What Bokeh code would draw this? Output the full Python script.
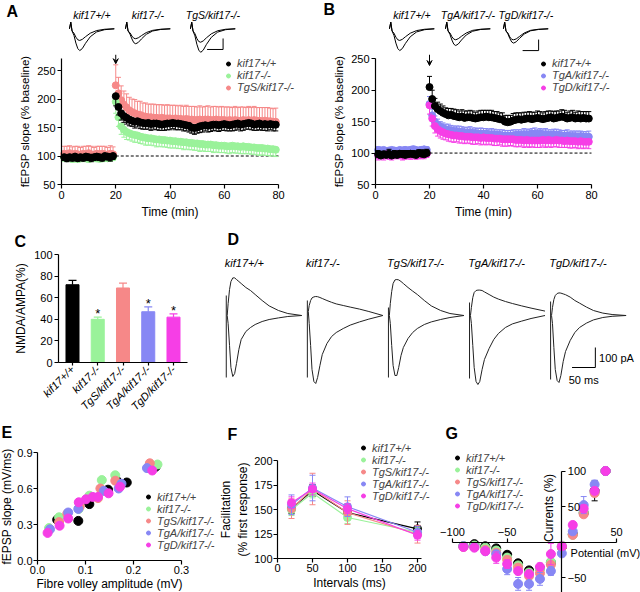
import math
from bokeh.plotting import figure
from bokeh.models import (Range1d, Legend, LegendItem, Arrow, VeeHead,
                          Label, LinearAxis, FixedTicker, NumeralTickFormatter)
from bokeh.layouts import row, column
from bokeh.embed import file_html
from bokeh.resources import INLINE
from bokeh.core.properties import value

FONT = "Liberation Sans"

GENOTYPES = ["kif17+/+", "kif17-/-", "TgS/kif17-/-", "TgA/kif17-/-", "TgD/kif17-/-"]
COLORS = ["#000000", "#9af29a", "#f68888", "#8787f4", "#f63ee6"]

# ---------------- A / B : LTP time course (% baseline) ----------------
ltp_time = list(range(1, 80))
ltp_wt = [98, 96, 98, 97, 99, 96, 98, 97, 99, 98, 97, 98, 99, 98, 97, 100, 99, 98, 100,
          205, 186, 175, 170, 167, 164, 162, 160, 161, 159, 158, 157, 158, 156, 157, 157, 156, 155, 156, 157,
          157, 158, 157, 157, 156, 155, 154, 153, 150, 149, 150, 152, 153, 154, 153, 154, 155, 155, 154, 155,
          156, 155, 154, 155, 156, 157, 155, 156, 157, 158, 157, 155, 156, 157, 155, 156, 155, 156, 155, 155]
ltp_wt_sem = [6, 6, 5, 6, 7, 5, 6, 6, 5, 6, 7, 6, 5, 6, 6, 5, 6, 7, 6,
              17, 14, 12, 11, 11, 11, 10, 11, 10, 11, 11, 10, 11, 11, 10, 11, 11, 10, 11, 11,
              11, 10, 11, 11, 10, 11, 10, 11, 10, 11, 10, 11, 11, 10, 11, 11, 10, 11, 11, 10,
              11, 11, 10, 11, 11, 10, 11, 11, 10, 11, 11, 10, 11, 11, 10, 11, 11, 10, 11, 11]
ltp_ko = [97, 96, 97, 95, 96, 95, 96, 97, 96, 95, 96, 97, 96, 95, 96, 97, 96, 97, 98,
          195, 168, 152, 146, 142, 140, 138, 137, 136, 134, 133, 132, 131, 131, 130, 129, 129, 128, 128, 127,
          127, 126, 126, 125, 125, 124, 124, 123, 123, 122, 122, 121, 121, 120, 120, 120, 119, 119, 118, 118,
          118, 117, 117, 118, 117, 117, 116, 117, 116, 116, 115, 115, 114, 114, 114, 113, 113, 112, 112, 111]
ltp_ko_sem = [6, 5, 6, 6, 5, 6, 6, 5, 6, 6, 5, 6, 6, 5, 6, 6, 5, 6, 6,
              20, 16, 14, 13, 13, 12, 12, 13, 12, 12, 12, 13, 12, 12, 12, 13, 12, 12, 12, 12,
              13, 12, 12, 12, 12, 13, 12, 12, 12, 12, 12, 13, 12, 12, 12, 12, 13, 12, 12, 12,
              12, 12, 13, 12, 12, 12, 12, 13, 12, 12, 12, 12, 12, 13, 12, 12, 12, 12, 12, 12]
ltp_tgs = [104, 103, 105, 102, 104, 103, 102, 104, 103, 105, 103, 102, 104, 103, 104, 103, 102, 104, 103,
           224, 210, 198, 190, 185, 180, 177, 175, 173, 172, 170, 169, 168, 168, 167, 167, 166, 167, 166, 166,
           166, 165, 166, 165, 165, 164, 165, 164, 164, 163, 163, 164, 163, 164, 164, 163, 163, 164, 163, 163,
           163, 162, 163, 162, 163, 162, 162, 163, 162, 163, 162, 163, 162, 162, 161, 162, 161, 161, 160, 160]
ltp_tgs_sem = [13, 14, 13, 14, 13, 14, 13, 13, 14, 13, 14, 13, 13, 14, 13, 14, 13, 14, 13,
               36, 28, 25, 24, 24, 23, 23, 24, 23, 24, 23, 24, 23, 23, 24, 23, 24, 23, 23, 24,
               23, 24, 23, 23, 24, 23, 24, 23, 23, 24, 23, 24, 23, 23, 24, 23, 24, 23, 23, 24,
               23, 24, 23, 23, 24, 23, 24, 23, 23, 24, 23, 24, 23, 23, 24, 23, 24, 23, 23, 24]
ltp_tga = [105, 104, 105, 103, 104, 105, 104, 103, 105, 104, 105, 104, 105, 106, 105, 104, 105, 106, 105,
           178, 160, 150, 145, 142, 140, 138, 137, 136, 135, 135, 134, 134, 133, 133, 133, 132, 132, 131, 131,
           131, 131, 130, 130, 130, 129, 129, 128, 128, 128, 128, 128, 129, 129, 129, 130, 130, 130, 131, 131,
           130, 131, 130, 130, 129, 129, 130, 129, 129, 128, 128, 128, 127, 127, 127, 126, 127, 126, 126, 126]
ltp_tga_sem = [5, 5, 4, 5, 5, 4, 5, 5, 4, 5, 5, 4, 5, 5, 4, 5, 5, 4, 5,
               12, 10, 9, 9, 8, 8, 8, 9, 8, 8, 8, 9, 8, 8, 8, 9, 8, 8, 8, 9,
               8, 8, 8, 9, 8, 8, 8, 9, 8, 8, 8, 9, 8, 8, 8, 9, 8, 8, 8, 9,
               8, 8, 8, 9, 8, 8, 8, 9, 8, 8, 8, 9, 8, 8, 8, 9, 8, 8, 8, 9]
ltp_tgd = [96, 97, 96, 98, 97, 96, 97, 98, 97, 96, 97, 98, 97, 98, 97, 98, 97, 98, 99,
           176, 155, 143, 138, 135, 133, 131, 130, 129, 128, 128, 127, 127, 126, 126, 126, 125, 125, 125, 124,
           125, 124, 124, 124, 123, 123, 123, 122, 122, 122, 122, 122, 121, 121, 121, 120, 121, 120, 120, 120,
           120, 120, 121, 120, 121, 120, 120, 121, 120, 120, 119, 120, 119, 119, 119, 118, 119, 118, 118, 118]
ltp_tgd_sem = [7, 6, 7, 6, 7, 7, 6, 7, 6, 7, 7, 6, 7, 6, 7, 7, 6, 7, 6,
               14, 12, 11, 11, 11, 11, 10, 11, 11, 11, 10, 11, 11, 11, 10, 11, 11, 11, 10, 11,
               11, 11, 10, 11, 11, 11, 10, 11, 11, 11, 10, 11, 11, 11, 10, 11, 11, 11, 10, 11,
               11, 11, 10, 11, 11, 11, 10, 11, 11, 11, 10, 11, 11, 11, 10, 11, 11, 11, 10, 11]
STIM_TIME = 20
BASELINE = 100
LTP_END = 80

# example fEPSP traces (mV): baseline and post-LTP
fepsp_time = [0, 0.4, 0.8, 1.4, 2.0, 2.6, 3.2, 4.0, 5.0, 6.5, 8.5, 11, 14]
fepsp_wt_pre = [0, 0.30, -0.10, -0.20, -0.38, -0.50, -0.53, -0.48, -0.36, -0.20, -0.08, -0.02, 0]
fepsp_wt_post = [0, 0.30, -0.10, -0.30, -0.65, -0.90, -0.99, -0.90, -0.66, -0.36, -0.14, -0.04, 0]
fepsp_ko_pre = [0, 0.30, -0.10, -0.18, -0.33, -0.43, -0.45, -0.41, -0.31, -0.17, -0.07, -0.02, 0]
fepsp_ko_post = [0, 0.30, -0.10, -0.24, -0.46, -0.63, -0.68, -0.62, -0.46, -0.25, -0.10, -0.03, 0]
fepsp_tgs_pre = [0, 0.30, -0.10, -0.22, -0.44, -0.58, -0.61, -0.55, -0.41, -0.23, -0.09, -0.02, 0]
fepsp_tgs_post = [0, 0.30, -0.10, -0.32, -0.70, -0.97, -1.07, -0.97, -0.71, -0.39, -0.15, -0.04, 0]
fepsp_tga_pre = [0, 0.30, -0.10, -0.19, -0.36, -0.47, -0.50, -0.45, -0.34, -0.19, -0.07, -0.02, 0]
fepsp_tga_post = [0, 0.30, -0.10, -0.26, -0.51, -0.70, -0.76, -0.69, -0.51, -0.28, -0.11, -0.03, 0]
fepsp_tgd_pre = [0, 0.30, -0.10, -0.19, -0.37, -0.48, -0.50, -0.46, -0.35, -0.19, -0.07, -0.02, 0]
fepsp_tgd_post = [0, 0.30, -0.10, -0.23, -0.44, -0.60, -0.65, -0.59, -0.44, -0.24, -0.09, -0.03, 0]
FEPSP_SCALE_MS = 5
FEPSP_SCALE_MV = 0.5

# ---------------- C : NMDA/AMPA ratio ----------------
nmda_mean = [72, 40, 69, 47, 42]
nmda_sem = [4, 2, 4.5, 4.5, 3]
nmda_sig = ["", "*", "", "*", "*"]

# ---------------- D : example EPSCs (pA) ----------------
epsc_time = [0, 2, 5, 8, 12, 16, 20, 25, 30, 40, 50, 60, 75, 90, 110, 130, 160]
epsc_wt_up = [0, 60, 130, 170, 188, 188, 180, 170, 160, 140, 125, 105, 75, 48, 25, 10, 0]
epsc_wt_down = [0, -40, -150, -260, -305, -290, -240, -170, -120, -80, -60, -45, -30, -20, -12, -5, 0]
epsc_ko_up = [20, 50, 75, 88, 93, 95, 94, 90, 85, 75, 66, 58, 50, 42, 32, 20, 0]
epsc_ko_down = [20, -40, -150, -270, -330, -340, -310, -250, -195, -140, -105, -85, -65, -48, -32, -18, 0]
epsc_tgs_up = [0, 60, 120, 160, 178, 180, 178, 170, 160, 140, 122, 105, 75, 48, 25, 10, 0]
epsc_tgs_down = [0, -40, -150, -250, -300, -300, -260, -200, -160, -115, -85, -65, -45, -32, -20, -10, 0]
epsc_tga_up = [0, 40, 90, 115, 125, 127, 127, 125, 118, 105, 92, 82, 70, 60, 48, 37, 22]
epsc_tga_down = [0, -40, -150, -260, -330, -345, -330, -270, -220, -165, -120, -90, -60, -42, -28, -15, 0]
epsc_tgd_up = [0, 40, 80, 100, 110, 113, 112, 108, 104, 92, 75, 62, 42, 25, 12, 5, 0]
epsc_tgd_down = [0, -40, -160, -270, -325, -335, -300, -230, -180, -125, -85, -60, -38, -22, -10, -4, 0]
epsc_artifact_top = [100, 75, 40, 65, 70]
epsc_artifact_bottom = [-310, -310, -310, -315, -320]
EPSC_SCALE_MS = 50
EPSC_SCALE_PA = 100

# ---------------- E : input-output ----------------
io_wt_x = [0.041, 0.085, 0.108, 0.147, 0.165, 0.186, 0.246]
io_wt_y = [0.34, 0.33, 0.47, 0.59, 0.665, 0.65, 0.78]
io_ko_x = [0.024, 0.045, 0.086, 0.108, 0.134, 0.162, 0.250]
io_ko_y = [0.27, 0.36, 0.43, 0.54, 0.67, 0.71, 0.80]
io_tgs_x = [0.045, 0.062, 0.088, 0.126, 0.131, 0.162, 0.234]
io_tgs_y = [0.32, 0.39, 0.45, 0.52, 0.60, 0.665, 0.81]
io_tga_x = [0.026, 0.064, 0.085, 0.138, 0.169, 0.175, 0.228]
io_tga_y = [0.26, 0.40, 0.43, 0.58, 0.60, 0.64, 0.77]
io_tgd_x = [0.021, 0.046, 0.064, 0.086, 0.101, 0.115, 0.126, 0.148, 0.172, 0.239]
io_tgd_y = [0.23, 0.29, 0.35, 0.485, 0.51, 0.53, 0.53, 0.56, 0.615, 0.75]

# ---------------- F : paired-pulse facilitation ----------------
ppf_interval = [20, 50, 100, 200]
ppf_wt = [151, 169.5, 147, 130.5]
ppf_wt_sem = [5, 6, 5, 7]
ppf_ko = [150, 167, 142, 127]
ppf_ko_sem = [6, 5, 6, 5]
ppf_tgs = [151, 171, 147, 125]
ppf_tgs_sem = [10, 16, 12, 9]
ppf_tga = [155, 172, 153, 127]
ppf_tga_sem = [10, 13, 10, 6]
ppf_tgd = [157, 171, 151, 124]
ppf_tgd_sem = [6, 6, 5, 5]

# ---------------- G : I-V relation ----------------
iv_potential = [-90, -80, -70, -60, -50, -40, -30, -20, -10, 0, 10, 20, 30, 40]
iv_wt = [-6, -3, -6, -9, -18, -30, -40, -37, -29, -7, 11, 41, 72, 100]
iv_wt_sem = [2, 2, 2, 3, 3, 3, 4, 4, 4, 3, 3, 4, 14, 0]
iv_ko = [-6, -5, -8, -12, -22, -33, -43, -38, -28, -5, 10, 42, 70, 100]
iv_ko_sem = [2, 2, 2, 3, 3, 3, 4, 4, 4, 3, 3, 4, 5, 0]
iv_tgs = [-7, -7, -11, -15, -25, -36, -48, -44, -32, -7, 10, 39, 69, 100]
iv_tgs_sem = [2, 2, 3, 3, 4, 4, 5, 5, 4, 3, 3, 4, 5, 0]
iv_tga = [-6, -7, -13, -17, -38, -59, -59, -52, -41, -16, 15, 52, 81, 100]
iv_tga_sem = [2, 2, 3, 4, 8, 9, 9, 9, 6, 4, 4, 12, 6, 0]
iv_tgd = [-7, -8, -13, -22, -31, -41, -45, -35, -17, -6, 24, 47, 72, 100]
iv_tgd_sem = [2, 2, 3, 8, 6, 5, 5, 5, 15, 4, 4, 5, 5, 0]


# ====================== helpers ======================
def frame_ranges(w, h, px_box, data_box):
    """Ranges so that data_box (x0, x1, y0, y1) lands on the in-figure pixels
    px_box (left, right, bottom, top); the frame fills the whole figure."""
    l, r, b, t = px_box
    x0, x1, y0, y1 = data_box
    sx = (x1 - x0) / (r - l)
    sy = (y1 - y0) / (b - t)
    return (Range1d(x0 - l * sx, x1 + (w - r) * sx),
            Range1d(y0 - (h - b) * sy, y1 + t * sy))


def make_fig(w, h, xr, yr):
    p = figure(width=w, height=h, x_range=xr, y_range=yr, toolbar_location=None,
               output_backend="svg", min_border_left=0, min_border_right=0,
               min_border_top=0, min_border_bottom=0,
               x_axis_location=None, y_axis_location=None)
    p.outline_line_color = None
    p.grid.grid_line_color = None
    p.background_fill_color = "white"
    p.border_fill_color = "white"
    return p


def style_axes(p, tick_size="11px", label_size="12px", tick_standoff=2, label_standoff=3):
    for ax in p.axis:
        ax.axis_line_color = "black"
        ax.axis_line_width = 1.2
        ax.major_tick_line_color = "black"
        ax.major_tick_line_width = 1.2
        ax.major_tick_out = 4
        ax.major_tick_in = 0
        ax.minor_tick_line_color = None
        ax.major_label_text_font = FONT
        ax.major_label_text_font_size = tick_size
        ax.major_label_text_color = "black"
        ax.axis_label_text_font = FONT
        ax.axis_label_text_font_size = label_size
        ax.axis_label_text_font_style = "normal"
        ax.axis_label_text_color = "black"
        ax.major_label_standoff = tick_standoff
        ax.axis_label_standoff = label_standoff


def add_axes(p, xloc, yloc, xbounds, ybounds, xticks, yticks, xlabel=None, ylabel=None):
    xa = LinearAxis(fixed_location=yloc, bounds=xbounds, ticker=FixedTicker(ticks=xticks))
    ya = LinearAxis(fixed_location=xloc, bounds=ybounds, ticker=FixedTicker(ticks=yticks))
    if xlabel:
        xa.axis_label = xlabel
    if ylabel:
        ya.axis_label = ylabel
    p.add_layout(xa, "below")
    p.add_layout(ya, "left")
    return xa, ya


def letter(p, text, px, py):
    p.add_layout(Label(x=p.x_range.start, y=p.y_range.end, x_offset=px, y_offset=-py, text=text,
                       text_font=FONT, text_font_size="16px", text_font_style="bold",
                       text_baseline="top", text_align="left", text_color="black"))


def add_legend(p, renderers, labels, loc):
    items = [LegendItem(label=l, renderers=[r]) for l, r in zip(labels, renderers)]
    lg = Legend(items=items, location=loc, background_fill_alpha=0, border_line_alpha=0,
                label_text_font=FONT, label_text_font_size="11px", label_text_font_style="italic",
                glyph_width=10, glyph_height=11, label_height=11, spacing=0, padding=0,
                margin=0, label_standoff=4)
    p.add_layout(lg, "center")


def err_series(p, x, y, err, color, direction, size, cap=5, lw=1.0):
    hi = [v + e for v, e in zip(y, err)]
    lo = [v - e for v, e in zip(y, err)]
    if direction > 0:
        p.segment(x0=x, y0=y, x1=x, y1=hi, line_color=color, line_width=lw)
        p.scatter(x=x, y=hi, marker="dash", size=cap, line_color=color, line_width=lw)
    elif direction < 0:
        p.segment(x0=x, y0=y, x1=x, y1=lo, line_color=color, line_width=lw)
        p.scatter(x=x, y=lo, marker="dash", size=cap, line_color=color, line_width=lw)
    else:
        p.segment(x0=x, y0=lo, x1=x, y1=hi, line_color=color, line_width=lw)
        p.scatter(x=x, y=hi, marker="dash", size=cap, line_color=color, line_width=lw)
        p.scatter(x=x, y=lo, marker="dash", size=cap, line_color=color, line_width=lw)
    return p.scatter(x=x, y=y, marker="circle", size=size, fill_color=color, line_color=color)


TR_W, TR_H = 320, 54


def trace_fig(names, pre, post, offsets, scale_x, scale_y, panel, lx, ly):
    p = make_fig(TR_W, TR_H, Range1d(-21.56, 78.44), Range1d(-1.168, 1.286))
    for nm, a, b, off in zip(names, pre, post, offsets):
        tt = [t + off for t in fepsp_time]
        p.line(tt, a, line_color="black", line_width=1)
        p.line(tt, b, line_color="black", line_width=1)
        p.text(x=[off + fepsp_time[-1] / 2], y=[0.605], text=[nm], text_font=value(FONT),
               text_font_size="10.5px", text_font_style="italic", text_align="center",
               text_baseline="middle", text_color="black")
    p.line([scale_x - FEPSP_SCALE_MS, scale_x, scale_x],
           [scale_y, scale_y, scale_y + FEPSP_SCALE_MV], line_color="black", line_width=1)
    letter(p, panel, lx, ly)
    return p


LTP_W, LTP_H = 320, 176


def ltp_fig(px_box, ytop, series, legend_rends_order, labels, legend_loc, arrow):
    xr, yr = frame_ranges(LTP_W, LTP_H, px_box, (0, LTP_END, 50, 250))
    p = make_fig(LTP_W, LTP_H, xr, yr)
    p.line([STIM_TIME, LTP_END], [BASELINE, BASELINE], line_color="black", line_width=1, line_dash="3 2")
    rends = [err_series(p, ltp_time, y, e, c, d, 7) for (y, e, c, d) in series]
    p.add_layout(Arrow(end=VeeHead(size=5, line_width=1), x_start=STIM_TIME, y_start=arrow[0],
                       x_end=STIM_TIME, y_end=arrow[1], line_width=1))
    add_axes(p, 0, 50, (0, LTP_END), (50, ytop), [0, 20, 40, 60, 80], [50, 100, 150, 200, 250],
             "Time (min)", "fEPSP slope (% baseline)")
    style_axes(p)
    p.yaxis.axis_label_text_font_size = "11.5px"
    add_legend(p, [rends[i] for i in legend_rends_order], labels, legend_loc)
    return p


# ====================== A ======================
trA = trace_fig(["kif17+/+", "kif17-/-", "TgS/kif17-/-"],
                [fepsp_wt_pre, fepsp_ko_pre, fepsp_tgs_pre],
                [fepsp_wt_post, fepsp_ko_post, fepsp_tgs_post],
                [0, 17.5, 37.8], 48, -0.94, "A", 6, 2)
pA = ltp_fig((61, 278, 130, 16), 271,
             [(ltp_tgs, ltp_tgs_sem, COLORS[2], +1),
              (ltp_ko, ltp_ko_sem, COLORS[1], -1),
              (ltp_wt, ltp_wt_sem, COLORS[0], -1)],
             [2, 1, 0], [GENOTYPES[0], GENOTYPES[1], GENOTYPES[2]], (223, 137), (278, 262))

# ====================== B ======================
trB = trace_fig(["kif17+/+", "TgA/kif17-/-", "TgD/kif17-/-"],
                [fepsp_wt_pre, fepsp_tga_pre, fepsp_tgd_pre],
                [fepsp_wt_post, fepsp_tga_post, fepsp_tgd_post],
                [0, 17.5, 35.6], 46.6, -0.99, "B", 3, 0)
pB = ltp_fig((55, 271, 130, 4.3), 250,
             [(ltp_tga, ltp_tga_sem, COLORS[3], +1),
              (ltp_tgd, ltp_tgd_sem, COLORS[4], -1),
              (ltp_wt, ltp_wt_sem, COLORS[0], +1)],
             [2, 0, 1], [GENOTYPES[0], GENOTYPES[3], GENOTYPES[4]], (218, 137), (256.8, 239.3))

# ====================== C ======================
bar_pos = [1, 2, 3, 4, 5]
C_W, C_H = 200, 190
xr, yr = frame_ranges(C_W, C_H, (72, 173, 132, 24), (1, 5, 0, 100))
pC = make_fig(C_W, C_H, xr, yr)
pC.vbar(x=bar_pos, top=nmda_mean, width=0.515, fill_color=COLORS, line_color=COLORS)
c_top = [m + s for m, s in zip(nmda_mean, nmda_sem)]
pC.segment(x0=bar_pos, y0=nmda_mean, x1=bar_pos, y1=c_top, line_color=COLORS, line_width=1.2)
pC.scatter(x=bar_pos, y=c_top, marker="dash", size=8, line_color=COLORS, line_width=1.2)
sig_x = [x for x, s in zip(bar_pos, nmda_sig) if s]
sig_y = [t + 3 for t, s in zip(c_top, nmda_sig) if s]
pC.text(x=sig_x, y=sig_y, text=["*"] * len(sig_x), text_font=value(FONT), text_font_size="13px",
        text_align="center", text_baseline="alphabetic", text_color="black")
cxa, cya = add_axes(pC, 0.446, 0, (0.446, 5.55), (0, 100), bar_pos, [0, 20, 40, 60, 80, 100],
                    None, "NMDA/AMPA(%)")
cxa.major_label_overrides = {p: g for p, g in zip(bar_pos, GENOTYPES)}
style_axes(pC)
cxa.major_label_orientation = math.pi / 4
cxa.major_label_text_font_style = "italic"
cxa.major_tick_out = 3
letter(pC, "C", 14, 2)

# ====================== D ======================
D_W, D_H = 440, 190
pD = make_fig(D_W, D_H, Range1d(-57.3, 886.9), Range1d(-525, 425))
TRACE_SPACING = 174
ups = [epsc_wt_up, epsc_ko_up, epsc_tgs_up, epsc_tga_up, epsc_tgd_up]
downs = [epsc_wt_down, epsc_ko_down, epsc_tgs_down, epsc_tga_down, epsc_tgd_down]
for i, g in enumerate(GENOTYPES):
    off = i * TRACE_SPACING
    tt = [t + off for t in epsc_time]
    pD.line(tt, ups[i], line_color="#222222", line_width=1)
    pD.line(tt, downs[i], line_color="#222222", line_width=1)
    pD.segment(x0=[off - 2], y0=[epsc_artifact_bottom[i]], x1=[off - 2], y1=[epsc_artifact_top[i]],
               line_color="#222222", line_width=1)
    pD.text(x=[off - 5], y=[265], text=[g], text_font=value(FONT), text_font_size="11px",
            text_font_style="italic", text_align="left", text_baseline="middle", text_color="black")
SB_X, SB_Y = 790, -260
pD.line([SB_X - EPSC_SCALE_MS, SB_X, SB_X], [SB_Y, SB_Y, SB_Y + EPSC_SCALE_PA],
        line_color="black", line_width=1)
pD.text(x=[SB_X + 8], y=[SB_Y + EPSC_SCALE_PA / 2], text=["100 pA"], text_font=value(FONT),
        text_font_size="11px", text_align="left", text_baseline="middle", text_color="black")
pD.text(x=[SB_X - EPSC_SCALE_MS / 2], y=[SB_Y - 30], text=["50 ms"], text_font=value(FONT),
        text_font_size="11px", text_align="center", text_baseline="top", text_color="black")
letter(pD, "D", 27, 0)

# ====================== E ======================
E_W, ROW3_H = 215, 172
xr, yr = frame_ranges(E_W, ROW3_H, (37, 181, 140, 32), (0, 0.3, 0, 0.9))
pE = make_fig(E_W, ROW3_H, xr, yr)
io = [(io_wt_x, io_wt_y), (io_ko_x, io_ko_y), (io_tgs_x, io_tgs_y), (io_tga_x, io_tga_y), (io_tgd_x, io_tgd_y)]
rE = [pE.scatter(x=xs, y=ys, marker="circle", size=9, fill_color=c, line_color=c)
      for (xs, ys), c in zip(io, COLORS)]
exa, eya = add_axes(pE, 0, 0, (0, 0.3), (0, 0.9), [0, 0.1, 0.2, 0.3], [0, 0.3, 0.6, 0.9],
                    "Fibre volley amplitude (mV)", "fEPSP slope (mV/ms)")
exa.formatter = NumeralTickFormatter(format="0.0")
eya.formatter = NumeralTickFormatter(format="0.0")
style_axes(pE, tick_standoff=1, label_standoff=0)
add_legend(pE, rE, GENOTYPES, (143, 41.5))
letter(pE, "E", 1, 3)

# ====================== F ======================
F_W = 217
xr, yr = frame_ranges(F_W, ROW3_H, (62, 202, 138.3, 40), (0, 200, 100, 200))
pF = make_fig(F_W, ROW3_H, xr, yr)
ppf = [(ppf_wt, ppf_wt_sem), (ppf_ko, ppf_ko_sem), (ppf_tgs, ppf_tgs_sem),
       (ppf_tga, ppf_tga_sem), (ppf_tgd, ppf_tgd_sem)]
rF = []
for (m, s), c in zip(ppf, COLORS):
    pF.line(ppf_interval, m, line_color=c, line_width=1.2)
    rF.append(err_series(pF, ppf_interval, m, s, c, 0, 8, cap=6))
add_axes(pF, 0, 100, (0, 205), (100, 200), [0, 50, 100, 150, 200], [100, 125, 150, 175, 200],
         "Intervals (ms)", "Facilitation\n(% first response)")
style_axes(pF, tick_standoff=1, label_standoff=1)
add_legend(pF, rF, GENOTYPES, (143, 90.5))
letter(pF, "F", 12, 5)

# ====================== G ======================
G_W = 208
xr, yr = frame_ranges(G_W, ROW3_H, (20, 184, 121.5, 50.5), (-100, 50, 0, 100))
pG = make_fig(G_W, ROW3_H, xr, yr)
iv = [(iv_wt, iv_wt_sem), (iv_ko, iv_ko_sem), (iv_tgs, iv_tgs_sem), (iv_tga, iv_tga_sem), (iv_tgd, iv_tgd_sem)]
rG = [err_series(pG, iv_potential, m, s, c, 0, 9, cap=6) for (m, s), c in zip(iv, COLORS)]
gxa = LinearAxis(fixed_location=0, bounds=(-100, 50), ticker=FixedTicker(ticks=[-100, -50, 50]))
gya = LinearAxis(fixed_location=0, bounds=(-80, 100), ticker=FixedTicker(ticks=[-50, 50, 100]))
pG.add_layout(gxa, "above")
pG.add_layout(gya, "right")
style_axes(pG)
pG.add_layout(Label(x=0, y=48, x_offset=-6, angle=math.pi / 2, text="Currents (%)", text_font=FONT,
                    text_font_size="12px", text_align="center", text_baseline="bottom", text_color="black"))
pG.add_layout(Label(x=8, y=0, y_offset=-5, text="Potential (mV)", text_font=FONT,
                    text_font_size="11px", text_align="left", text_baseline="top", text_color="black"))
add_legend(pG, rG, GENOTYPES, (20, 80.5))
letter(pG, "G", 13, 4)

layout = column(
    row(column(trA, pA), column(trB, pB)),
    row(pC, pD),
    row(pE, pF, pG),
)

open("out.html", "w").write(file_html(layout, INLINE))
